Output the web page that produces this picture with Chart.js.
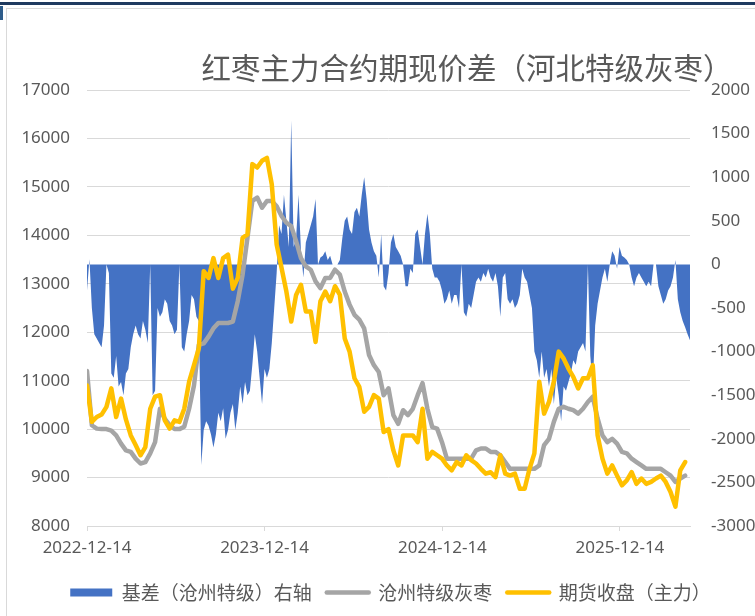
<!DOCTYPE html>
<html>
<head>
<meta charset="utf-8">
<script src="https://cdn.jsdelivr.net/npm/chart.js@4.4.1/dist/chart.umd.min.js"></script>
<style>
  body { margin: 0; background: #fff; }
  #wrap { position: relative; width: 755px; height: 616px; overflow: hidden; }
  #topLine { position: absolute; left: 0; top: 2px; width: 755px; height: 3px; background: #1F3A5F; }
  #cornerMark { position: absolute; left: 0; top: 6px; width: 3px; height: 14px; background: #2E5C8A; }
  #frame { position: absolute; left: 6px; top: 8px; width: 760px; height: 620px; border: 1px solid #D9D9D9; pointer-events: none; }
</style>
</head>
<body>
<div id="wrap">
  <canvas id="basisChart" width="755" height="616"></canvas>
  <div id="topLine"></div>
  <div id="cornerMark"></div>
  <div id="frame"></div>
</div>
<script>
// title and legend text
const chartTitle = '红枣主力合约期现价差（河北特级灰枣）';
const seriesNames = ['基差（沧州特级）右轴', '沧州特级灰枣', '期货收盘（主力）'];

// x axis: days counted from 2022-12-14
const lineStepDays = 10;   // spot / futures sampled every 10 days
const basisStepDays = 5;   // basis sampled every 5 days
const xTickDays = [0, 365, 731, 1096];
const xTickLabels = ['2022-12-14', '2023-12-14', '2024-12-14', '2025-12-14'];

// 沧州特级灰枣 (left axis)
const spotPrice = [
  11200, 10080, 10010, 10000, 10000, 9970, 9870, 9700, 9560, 9530,
  9390, 9290, 9320, 9500, 9730, 10420, 10210, 10080, 10000, 10000,
  10050, 10420, 10900, 11740, 11770, 11910, 12080, 12190, 12190, 12190,
  12220, 12640, 13190, 13950, 14710, 14780, 14570, 14710, 14710, 14600,
  14400, 14260, 14190, 13880, 13530, 13360, 13290, 13050, 12910, 13120,
  13120, 13290, 13190, 12840, 12570, 12360, 12260, 12080, 11530, 11320,
  11180, 10700, 10840, 10290, 10110, 10390, 10290, 10420, 10700, 10950,
  10420, 10040, 10010, 9730, 9390, 9390, 9390, 9390, 9390, 9390,
  9560, 9600, 9600, 9530, 9530, 9460, 9320, 9180, 9180, 9180,
  9180, 9180, 9180, 9250, 9670, 9800, 10150, 10420, 10460, 10420,
  10390, 10320, 10420, 10560, 10670, 10220, 9870, 9730, 9800, 9700,
  9530, 9500, 9390, 9320, 9250, 9180, 9180, 9180, 9180, 9110,
  9040, 8910, 8980, 9040
];

// 期货收盘（主力） (left axis)
const futuresClose = [
  10900, 10150, 10250, 10300, 10460, 10840, 10250, 10630, 10200, 9870,
  9670, 9460, 9630, 10420, 10670, 10700, 10180, 10010, 10180, 10150,
  10420, 10980, 11320, 11670, 13260, 13120, 13530, 13120, 13530, 13600,
  12900, 13120, 13950, 14020, 15470, 15400, 15540, 15600, 15050, 13810,
  13330, 12840, 12220, 12770, 12980, 12430, 12430, 11800, 12640, 12840,
  12640, 12950, 12770, 11870, 11600, 11050, 10870, 10360, 10460, 10700,
  10630, 9940, 10000, 9560, 9250, 9870, 9870, 9870, 9730, 10420,
  9390, 9530, 9460, 9390, 9250, 9150, 9320, 9250, 9460, 9360,
  9290, 9180, 9080, 9110, 9010, 9460, 9080, 9040, 9080, 8770,
  8770, 9180, 9500, 10980, 10320, 10560, 10980, 11600, 11460, 11250,
  11080, 10840, 11050, 11050, 11320, 9870, 9390, 9080, 9250, 9040,
  8840, 8940, 9110, 8870, 8980, 8870, 8910, 8980, 9040, 8910,
  8700, 8400, 9150, 9320
];

// 基差（沧州特级） (right axis)
const basisValues = [
  -300, 60, -500, -800, -850, -900, -950, -700, 0, -100,
  -1250, -1300, -1050, -1400, -1350, -1500, -1250, -1200, -950, -800,
  -700, -800, -850, -650, -750, -900, 0, -1500, -1450, -500,
  -600, -550, -400, -450, -650, -700, -800, -750, 0, -950,
  -1000, -800, -650, -350, -400, -600, -650, -2300, -1900, -1800,
  -1850, -1950, -2100, -1950, -1700, -1800, -1650, -2000, -1900, -1700,
  -1600, -1900, -1700, -1400, -1600, -1350, -1500, -1450, -1150, -800,
  -1000, -1300, -1600, -1200, -1300, -1200, -900, -500, -100, 450,
  350, 800, 500, 200, 1650, 200, 300, 800, 150, -150,
  250, 350, 450, 550, 750, 0, 80, 100, 150, 50,
  100, 0, 0, 0, 50, 300, 500, 550, 400, 350,
  600, 650, 550, 800, 1000, 750, 400, 250, 150, 100,
  -150, 350, -250, -300, -100, 250, 350, 200, 150, 100,
  0, -250, -250, -50, -100, 350, 400, 200, 0, 350,
  580, 350, -50, -150, -150, -200, -300, -450, -400, -300,
  -450, -350, -350, -500, 0, -550, -600, -450, -500, -350,
  -200, -150, -200, -100, -150, -50, -150, -200, -100, -250,
  -600, -150, -100, -400, -450, -400, -500, -450, -350, -50,
  -150, -200, -350, -500, -1000, -1100, -1300, -1000, -1300, -1200,
  -1400, -1200, -1600, -1300, -1500, -1800, -1400, -1450, -1350, -1250,
  -1100, -1150, -1000, -950, -900, -1000, 0, -1050, -1400, -700,
  -450, -300, -150, -50, -200, 0, 150, 100, -50, 200,
  100, 80, 50, 0, -150, -250, -150, -100, -150, -200,
  -250, -200, -250, 0, 0, -250, -350, -450, -400, -300,
  -250, -150, 50, -400, -550, -650, -720, -800, -870
];

function toPoints(values, step) {
  return values.map((v, i) => ({ x: i * step, y: v }));
}

const textColor = '#595959';
const gridColor = '#D9D9D9';
const tickFont = { family: '"Noto Sans", "Liberation Sans", sans-serif', size: 17 };
const plainNumber = (value) => String(value);

const titlePlugin = {
  id: 'titleText',
  afterLayout(chart) {
    // nudge the legend row to the right like the original
    if (chart.legend) {
      chart.legend.left += 13;
      chart.legend.right += 13;
    }
  },
  afterDraw(chart) {
    const ctx = chart.ctx;
    ctx.save();
    ctx.font = '29.5px "Noto Sans CJK SC", sans-serif';
    ctx.fillStyle = textColor;
    ctx.textAlign = 'center';
    ctx.textBaseline = 'middle';
    ctx.fillText(chartTitle, 467, 68);
    ctx.restore();
  }
};

new Chart(document.getElementById('basisChart'), {
  type: 'line',
  data: {
    datasets: [
      {
        label: seriesNames[0],
        data: toPoints(basisValues, basisStepDays),
        yAxisID: 'y1',
        fill: 'origin',
        backgroundColor: '#4472C4',
        borderColor: '#4472C4',
        borderWidth: 0,
        pointRadius: 0,
        tension: 0,
        order: 2
      },
      {
        label: seriesNames[1],
        data: toPoints(spotPrice, lineStepDays),
        yAxisID: 'y',
        borderColor: '#A5A5A5',
        backgroundColor: '#A5A5A5',
        borderWidth: 4.5,
        borderCapStyle: 'round',
        borderJoinStyle: 'round',
        pointRadius: 0,
        tension: 0,
        order: 1
      },
      {
        label: seriesNames[2],
        data: toPoints(futuresClose, lineStepDays),
        yAxisID: 'y',
        borderColor: '#FFC000',
        backgroundColor: '#FFC000',
        borderWidth: 4.5,
        borderCapStyle: 'round',
        borderJoinStyle: 'round',
        pointRadius: 0,
        tension: 0,
        order: 0
      }
    ]
  },
  options: {
    responsive: false,
    animation: false,
    devicePixelRatio: 1,
    layout: { padding: { top: 90, left: 0, right: 0, bottom: 4 } },
    plugins: {
      title: { display: false },
      tooltip: { enabled: false },
      legend: {
        position: 'bottom',
        labels: {
          color: textColor,
          font: { family: '"Noto Sans CJK SC", sans-serif', size: 19 },
          usePointStyle: true,
          pointStyleWidth: 42,
          boxHeight: 8,
          padding: 15,
          sort: (a, b) => a.datasetIndex - b.datasetIndex,
          generateLabels(chart) {
            const items = Chart.defaults.plugins.legend.labels.generateLabels(chart);
            items.forEach(it => {
              it.pointStyle = it.datasetIndex === 0 ? 'rect' : 'line';
              it.lineCap = 'round';
            });
            return items;
          }
        }
      }
    },
    scales: {
      x: {
        type: 'linear',
        min: 0,
        max: 1240,
        afterBuildTicks(scale) {
          scale.ticks = xTickDays.map(v => ({ value: v }));
        },
        afterFit(scale) { scale.height = 42; },
        ticks: {
          color: textColor,
          font: tickFont,
          padding: 7,
          maxRotation: 0,
          autoSkip: false,
          callback(value) {
            const k = xTickDays.indexOf(value);
            return k >= 0 ? xTickLabels[k] : '';
          }
        },
        grid: { drawOnChartArea: false, drawTicks: true, tickLength: 5, color: gridColor },
        border: { display: true, color: gridColor }
      },
      y: {
        position: 'left',
        min: 8000,
        max: 17000,
        afterFit(scale) { scale.width = 87; },
        ticks: { stepSize: 1000, color: textColor, font: tickFont, padding: 17, callback: plainNumber },
        grid: { color: gridColor, drawTicks: false },
        border: { display: false }
      },
      y1: {
        position: 'right',
        min: -3000,
        max: 2000,
        afterFit(scale) { scale.width = 65; },
        ticks: { stepSize: 500, color: textColor, font: tickFont, padding: 13, callback: plainNumber },
        grid: { display: false, drawOnChartArea: false },
        border: { display: false }
      }
    }
  },
  plugins: [titlePlugin]
});
</script>
</body>
</html>
